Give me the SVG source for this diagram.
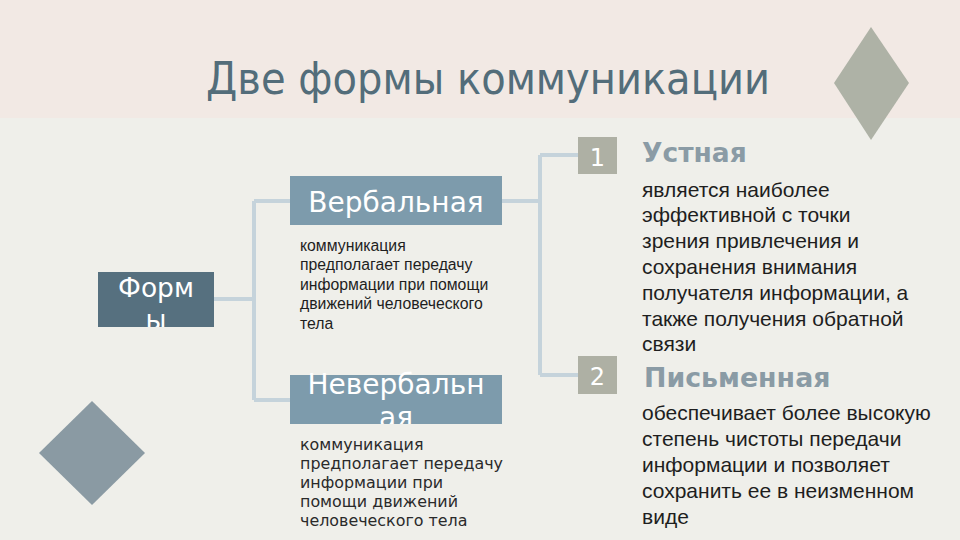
<svg xmlns="http://www.w3.org/2000/svg" width="960" height="540" viewBox="0 0 960 540">
<defs>
<style>
.conn{fill:none;stroke:#C5D3DB;stroke-width:4}
.boxt{font-family:"DejaVu Sans",sans-serif;fill:#FFFFFF}
.desc{font-family:"Liberation Sans",Arial,sans-serif;fill:#1E1E1E}
.desc2{font-family:"DejaVu Sans",sans-serif;fill:#2A2A2A}
.head{font-family:"DejaVu Sans",sans-serif;font-weight:bold;fill:#8A9BA5}
</style>
<clipPath id="cf"><rect x="98" y="272" width="116" height="55"/></clipPath>
<clipPath id="cn"><rect x="290" y="360" width="212" height="64"/></clipPath>
</defs>
<rect x="0" y="0" width="960" height="540" fill="#EFEFEA"/>
<rect x="0" y="0" width="960" height="118" fill="#F2E9E4"/>
<text x="488" y="94" text-anchor="middle" font-family="'DejaVu Sans Condensed','DejaVu Sans',sans-serif" font-size="44.5" fill="#536D7A">Две формы коммуникации</text>
<polygon points="871,27 909,83 871,140 834,83" fill="#AEB2A6"/>
<polygon points="92,401 145,453 92,505 39,453" fill="#8A9AA3"/>
<g id="connectors">
<path class="conn" d="M214,299 H254 M254,201 V400 M254,201 H290 M254,400 H290"/>
<path class="conn" d="M502,201 H540 M540,155 V375 M540,155 H578 M540,375 H578"/>
</g>
<g id="formy">
<rect x="98" y="272" width="116" height="55" fill="#56707F"/>
<g clip-path="url(#cf)">
<text class="boxt" x="156" y="297" text-anchor="middle" font-size="26.5">Форм</text>
<text class="boxt" x="156" y="329" text-anchor="middle" font-size="26.5">ы</text>
</g>
</g>
<g id="verbal">
<rect x="290" y="176" width="212" height="49" fill="#7D9BAC"/>
<text class="boxt" x="396" y="212" text-anchor="middle" font-size="28">Вербальная</text>
<text class="desc" font-size="15.8">
<tspan x="300" y="251">коммуникация</tspan>
<tspan x="300" y="270">предполагает передачу</tspan>
<tspan x="300" y="290">информации при помощи</tspan>
<tspan x="300" y="309">движений человеческого</tspan>
<tspan x="300" y="329">тела</tspan>
</text>
</g>
<g id="neverbal">
<rect x="290" y="375" width="212" height="49" fill="#7D9BAC"/>
<g clip-path="url(#cn)">
<text class="boxt" x="396" y="394" text-anchor="middle" font-size="28">Невербальн</text>
<text class="boxt" x="396" y="427" text-anchor="middle" font-size="28">ая</text>
</g>
<text class="desc2" font-size="15.9">
<tspan x="300" y="450">коммуникация</tspan>
<tspan x="300" y="469">предполагает передачу</tspan>
<tspan x="300" y="488">информации при</tspan>
<tspan x="300" y="507">помощи движений</tspan>
<tspan x="300" y="526">человеческого тела</tspan>
</text>
</g>
<g id="ustnaya">
<rect x="578" y="137" width="39" height="37" fill="#AEB0A4"/>
<text class="boxt" x="597.5" y="166" text-anchor="middle" font-size="24">1</text>
<text class="head" x="642" y="162" font-size="26.5">Устная</text>
<text class="desc" font-size="21">
<tspan x="642" y="197">является наиболее</tspan>
<tspan x="642" y="222">эффективной с точки</tspan>
<tspan x="642" y="248">зрения привлечения и</tspan>
<tspan x="642" y="274">сохранения внимания</tspan>
<tspan x="642" y="300">получателя информации, а</tspan>
<tspan x="642" y="326">также получения обратной</tspan>
<tspan x="642" y="351">связи</tspan>
</text>
</g>
<g id="pismennaya">
<rect x="578" y="356" width="39" height="38" fill="#AEB0A4"/>
<text class="boxt" x="597.5" y="385" text-anchor="middle" font-size="24">2</text>
<text class="head" x="644" y="387" font-size="26.8">Письменная</text>
<text class="desc" font-size="21">
<tspan x="642" y="420">обеспечивает более высокую</tspan>
<tspan x="642" y="446">степень чистоты передачи</tspan>
<tspan x="642" y="472">информации и позволяет</tspan>
<tspan x="642" y="498">сохранить ее в неизменном</tspan>
<tspan x="642" y="524">виде</tspan>
</text>
</g>
</svg>
